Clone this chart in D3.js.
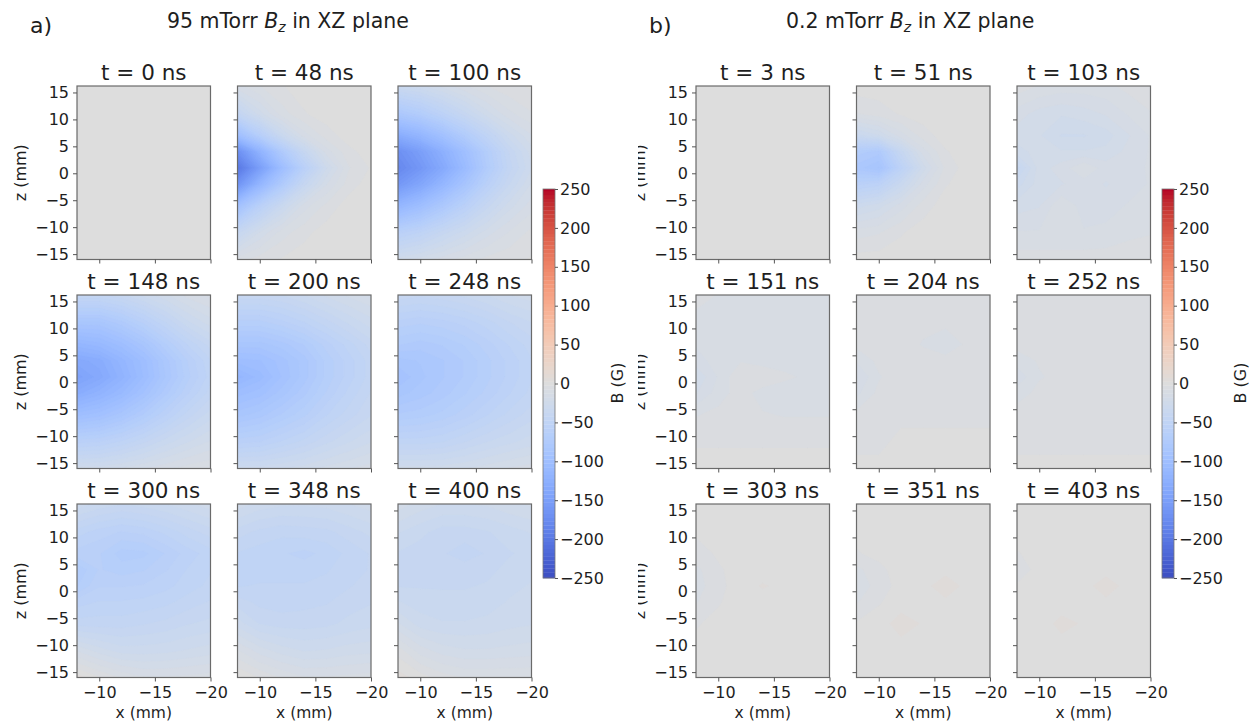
<!DOCTYPE html>
<html>
<head>
<meta charset="utf-8">
<script src="https://cdn.jsdelivr.net/npm/d3@7"></script>
<style>
  body { margin: 0; background: #fff; }
  svg text { font-family: "DejaVu Sans", sans-serif; fill: #1e1e1e; }
</style>
</head>
<body>
<svg id="chart" width="1258" height="726"></svg>
<script>
// Measurement grid (mm): x columns and z rows (rows listed top to bottom)
const xSamples = [-8, -10, -12, -14, -16, -18, -20];
const zSamples = [16, 11, 7, 4, 1, -2, -6, -11, -16];

const xTicks = [-10, -15, -20];
const zTicks = [-15, -10, -5, 0, 5, 10, 15];
const cbarTicks = [-250, -200, -150, -100, -50, 0, 50, 100, 150, 200, 250];

const times95 = [0, 48, 100, 148, 200, 248, 300, 348, 400];
const times02 = [3, 51, 103, 151, 204, 252, 303, 351, 403];

// Bz (G) at 95 mTorr, one grid per time
const bz95 = [
  [[0,0,0,0,0,0,0],[0,0,0,0,0,0,0],[0,0,0,0,0,0,0],[0,0,0,0,0,0,0],[0,0,0,0,0,0,0],
   [0,0,0,0,0,0,0],[0,0,0,0,0,0,0],[0,0,0,0,0,0,0],[0,0,0,0,0,0,0]],
  [[-15,-8,-3,0,0,0,0],[-45,-25,-10,-3,0,0,0],[-100,-65,-35,-15,-5,0,0],[-170,-120,-75,-40,-15,-4,0],
   [-200,-150,-100,-60,-28,-8,-2],[-165,-115,-75,-40,-18,-5,0],[-95,-60,-35,-15,-6,0,0],
   [-40,-22,-10,-4,0,0,0],[-10,-5,-2,0,0,0,0]],
  [[-35,-30,-22,-14,-8,-4,-2],[-80,-70,-55,-40,-25,-14,-8],[-130,-115,-95,-72,-50,-30,-18],
   [-170,-150,-125,-98,-68,-42,-25],[-180,-160,-135,-105,-72,-45,-28],[-160,-140,-115,-88,-60,-38,-22],
   [-115,-100,-80,-60,-40,-25,-15],[-60,-52,-40,-30,-20,-12,-6],[-25,-20,-15,-10,-6,-4,-2]],
  [[-45,-45,-40,-32,-24,-16,-12],[-85,-85,-75,-62,-48,-34,-25],[-115,-110,-100,-86,-68,-52,-40],
   [-135,-130,-115,-100,-80,-62,-48],[-145,-135,-120,-102,-82,-64,-50],[-130,-120,-108,-92,-74,-58,-45],
   [-100,-95,-85,-72,-58,-45,-35],[-60,-58,-52,-44,-35,-28,-22],[-25,-25,-22,-18,-14,-10,-8]],
  [[-40,-40,-38,-33,-27,-22,-18],[-65,-65,-60,-53,-45,-37,-30],[-85,-85,-80,-72,-60,-50,-40],
   [-100,-98,-90,-80,-66,-55,-45],[-115,-105,-92,-80,-66,-55,-45],[-100,-95,-85,-74,-62,-51,-42],
   [-85,-80,-72,-64,-53,-45,-38],[-60,-58,-52,-46,-39,-33,-28],[-30,-30,-28,-25,-21,-18,-15]],
  [[-40,-42,-40,-37,-33,-28,-25],[-60,-62,-60,-56,-50,-43,-38],[-72,-75,-72,-67,-60,-52,-45],
   [-85,-82,-78,-72,-64,-56,-48],[-92,-84,-78,-72,-64,-56,-48],[-85,-80,-75,-68,-61,-53,-46],
   [-72,-70,-66,-60,-53,-46,-40],[-50,-50,-48,-43,-38,-34,-30],[-25,-25,-25,-23,-20,-17,-15]],
  [[-30,-35,-38,-36,-33,-29,-25],[-50,-55,-58,-56,-51,-45,-40],[-60,-62,-70,-69,-62,-55,-50],
   [-72,-62,-65,-63,-58,-52,-48],[-68,-58,-58,-57,-54,-50,-46],[-55,-52,-52,-51,-49,-45,-42],
   [-45,-45,-45,-43,-41,-38,-36],[-18,-25,-30,-30,-29,-27,-25],[5,-2,-8,-12,-12,-11,-10]],
  [[-25,-30,-32,-32,-31,-28,-25],[-40,-44,-46,-45,-44,-40,-36],[-48,-50,-52,-54,-51,-46,-42],
   [-50,-50,-50,-50,-48,-45,-42],[-48,-47,-47,-47,-46,-43,-40],[-40,-44,-45,-44,-43,-40,-38],
   [-30,-38,-40,-40,-39,-36,-34],[-12,-20,-25,-28,-27,-25,-24],[3,-3,-8,-12,-12,-11,-10]],
  [[-20,-25,-28,-28,-27,-24,-22],[-32,-36,-40,-40,-38,-35,-32],[-38,-40,-42,-45,-42,-38,-36],
   [-40,-40,-40,-40,-39,-36,-34],[-38,-38,-38,-38,-37,-34,-32],[-32,-35,-36,-36,-35,-32,-30],
   [-22,-30,-32,-32,-31,-29,-28],[-5,-15,-20,-22,-22,-21,-20],[5,0,-5,-8,-8,-8,-8]]
];

// Bz (G) at 0.2 mTorr, one grid per time
const bz02 = [
  [[0,0,0,0,0,0,0],[0,0,0,0,0,0,0],[0,0,0,0,0,0,0],[0,0,0,0,0,0,0],[0,0,0,0,0,0,0],
   [0,0,0,0,0,0,0],[0,0,0,0,0,0,0],[0,0,0,0,0,0,0],[0,0,0,0,0,0,0]],
  [[0,0,0,0,0,0,0],[-8,-5,-2,0,0,0,0],[-35,-28,-15,-5,0,0,0],[-70,-75,-40,-15,-3,0,0],
   [-80,-88,-55,-25,-6,0,0],[-60,-55,-35,-15,-3,0,0],[-30,-25,-15,-5,0,0,0],
   [-10,-8,-3,0,0,0,0],[0,0,0,0,0,0,0]],
  [[-5,-8,-10,-10,-9,-6,-3],[-15,-20,-22,-20,-17,-12,-8],[-20,-22,-28,-28,-25,-18,-12],
   [-25,-20,-22,-22,-21,-16,-12],[-40,-20,-15,-8,-15,-14,-12],[-30,-20,-18,-15,-18,-15,-12],
   [-20,-18,-8,-15,-15,-12,-10],[-12,-12,-12,-12,-11,-9,-8],[-5,-5,-5,-5,-5,-4,-3]],
  [[-5,-8,-10,-12,-11,-9,-8],[-10,-12,-12,-12,-12,-11,-10],[-12,-12,-12,-12,-12,-12,-12],
   [-15,-10,-8,-10,-11,-12,-12],[-22,-12,-3,-3,-6,-9,-10],[-18,-10,-5,-10,-12,-12,-12],
   [-8,-6,-5,-7,-8,-8,-8],[-3,-3,-3,-3,-3,-3,-3],[-1,-1,-1,-1,-1,-1,-1]],
  [[-3,-3,-3,-3,-3,-3,-3],[-5,-5,-5,-6,-6,-5,-4],[-6,-5,-5,-8,-12,-6,-4],[-12,-6,-5,-5,-5,-5,-4],
   [-18,-8,-5,-4,-4,-4,-4],[-14,-6,-4,-4,-4,-4,-4],[-6,-4,-3,-3,-3,-3,-3],
   [-3,-3,-2,-2,-2,-2,-2],[-2,-2,-2,-1,-1,-1,-1]],
  [[-3,-3,-3,-3,-3,-3,-3],[-5,-5,-6,-6,-6,-5,-4],[-6,-6,-6,-6,-6,-6,-5],[-10,-7,-6,-6,-6,-6,-5],
   [-16,-8,-6,-5,-5,-5,-5],[-10,-6,-5,-5,-5,-5,-4],[-5,-4,-4,-4,-4,-4,-3],
   [-3,-3,-3,-3,-3,-3,-3],[-2,-2,-2,-2,-2,-2,-2]],
  [[-1,-1,-1,-1,-1,-1,-1],[-2,-2,-2,-1,-1,-1,-1],[-4,-2,-1,-1,-1,-1,-1],[-9,-3,-1,0,0,0,0],
   [-10,-4,0,3,1,0,0],[-8,-3,0,0,0,0,0],[-3,-1,0,0,0,0,0],[-1,0,0,0,0,0,0],[0,0,0,0,0,0,0]],
  [[0,0,0,0,0,0,0],[-1,-1,0,0,0,0,0],[-3,-1,0,0,0,0,0],[-9,-4,0,0,0,0,0],
   [-10,-6,0,0,7,0,0],[-8,-3,0,0,1,0,0],[-2,0,5,2,0,0,0],[0,0,0,0,0,0,0],[0,0,0,0,0,0,0]],
  [[0,0,0,0,0,0,0],[0,0,0,0,0,0,0],[-3,0,0,0,0,0,0],[-5,-1,0,0,0,0,0],
   [-2,0,0,0,6,0,0],[0,0,0,0,1,0,0],[0,0,4,2,0,0,0],[0,0,0,0,0,0,0],[0,0,0,0,0,0,0]]
];

// coolwarm colormap control points
const coolwarmStops = [
  [0.2298,0.2987,0.7537],[0.2662,0.3531,0.8015],[0.3039,0.4065,0.8450],[0.3428,0.4588,0.8837],
  [0.3830,0.5094,0.9174],[0.4244,0.5581,0.9456],[0.4667,0.6046,0.9682],[0.5096,0.6483,0.9848],
  [0.5530,0.6889,0.9954],[0.5963,0.7261,0.9998],[0.6392,0.7596,0.9982],[0.6813,0.7890,0.9904],
  [0.7222,0.8140,0.9766],[0.7615,0.8343,0.9569],[0.7987,0.8498,0.9317],[0.8335,0.8602,0.9011],
  [0.8654,0.8654,0.8654],[0.8978,0.8489,0.8209],[0.9241,0.8274,0.7745],[0.9445,0.8009,0.7267],
  [0.9589,0.7698,0.6780],[0.9673,0.7341,0.6288],[0.9700,0.6943,0.5794],[0.9668,0.6504,0.5303],
  [0.9580,0.6028,0.4818],[0.9437,0.5518,0.4342],[0.9239,0.4973,0.3880],[0.8990,0.4396,0.3432],
  [0.8692,0.3783,0.3003],[0.8346,0.3129,0.2593],[0.7956,0.2413,0.2193],[0.7525,0.1572,0.1841],
  [0.7057,0.0156,0.1502]
].map(c => d3.rgb(c[0] * 255, c[1] * 255, c[2] * 255));
const coolwarm = d3.scaleLinear()
  .domain(d3.range(coolwarmStops.length).map(i => -250 + 500 * i / (coolwarmStops.length - 1)))
  .range(coolwarmStops)
  .interpolate(d3.interpolateRgb)
  .clamp(true);

const step = 5;
const thresholds = d3.range(-250 - step / 2, 250, step);
const bandColor = t => coolwarm(Math.max(-250, Math.min(250, t + step / 2)));

const svg = d3.select("#chart");
const W = 133.5, H = 173.5;
const colX = [77, 237.5, 398];
const rowY = [86, 295, 504];
const tickLen = 4;
const minusFmt = d => String(d).replace("-", "\u2212");

const contourGen = d3.contours()
  .size([xSamples.length, zSamples.length])
  .thresholds(thresholds);
const gridToX = d3.scaleLinear().domain(xSamples.map((_, i) => i + 0.5)).range(xSamples);
const gridToZ = d3.scaleLinear().domain(zSamples.map((_, i) => i + 0.5)).range(zSamples);

let clipId = 0;

function drawPanel(g, grid, t, col, row) {
  const x0 = colX[col], y0 = rowY[row];
  const x = d3.scaleLinear().domain([-8, -20]).range([x0, x0 + W]);
  const z = d3.scaleLinear().domain([-16, 16.2]).range([y0 + H, y0]);

  const id = "clip" + (clipId++);
  g.append("clipPath").attr("id", id)
    .append("rect").attr("x", x0).attr("y", y0).attr("width", W).attr("height", H);

  const proj = d3.geoTransform({
    point(px, py) { this.stream.point(x(gridToX(px)), z(gridToZ(py))); }
  });
  const path = d3.geoPath(proj);

  const fill = g.append("g").attr("clip-path", `url(#${id})`);
  fill.selectAll("path")
    .data(contourGen(grid.flat()).filter(c => c.coordinates.length))
    .join("path")
    .attr("d", path)
    .attr("fill", c => bandColor(c.value))
    .attr("stroke", c => bandColor(c.value))
    .attr("stroke-width", 0.3);

  // frame
  g.append("rect").attr("x", x0).attr("y", y0).attr("width", W).attr("height", H)
    .attr("fill", "none").attr("stroke", "#6a6a6a").attr("stroke-width", 1.2);

  // ticks
  const yAx = g.append("g").attr("transform", `translate(${x0},0)`)
    .call(d3.axisLeft(z).tickValues(zTicks).tickSize(tickLen).tickPadding(4)
      .tickFormat(col === 0 ? minusFmt : ""));
  const xAx = g.append("g").attr("transform", `translate(0,${y0 + H})`)
    .call(d3.axisBottom(x).tickValues(xTicks).tickSize(tickLen).tickPadding(5.5)
      .tickFormat(row === 2 ? minusFmt : ""));
  [yAx, xAx].forEach(a => {
    a.select(".domain").remove();
    a.selectAll(".tick line").attr("stroke", "#555").attr("stroke-width", 1);
    a.selectAll(".tick text").attr("font-size", 16).attr("fill", "#1e1e1e")
      .attr("font-family", "DejaVu Sans, sans-serif");
  });

  g.append("text")
    .attr("x", x0 + W / 2).attr("y", y0 - 6)
    .attr("text-anchor", "middle").attr("font-size", 21.5)
    .text(`t = ${t} ns`);

  if (col === 0) {
    g.append("text")
      .attr("transform", `translate(${x0 - 51},${y0 + H / 2}) rotate(-90)`)
      .attr("text-anchor", "middle").attr("font-size", 16)
      .text("z (mm)");
  }
  if (row === 2) {
    g.append("text")
      .attr("x", x0 + W / 2).attr("y", 717.5)
      .attr("text-anchor", "middle").attr("font-size", 15.5)
      .text("x (mm)");
  }
}

function drawColorbar(g, bx, cbLabelX) {
  const y = d3.scaleLinear().domain([-250, 250]).range([578, 189]);
  const bw = 12;
  g.selectAll("rect.band")
    .data(thresholds)
    .join("rect").attr("class", "band")
    .attr("x", bx)
    .attr("y", t => y(Math.min(250, t + step)))
    .attr("width", bw)
    .attr("height", t => Math.abs(y(Math.max(-250, t)) - y(Math.min(250, t + step))) + 0.3)
    .attr("fill", t => bandColor(t));
  g.append("rect").attr("x", bx).attr("y", 189).attr("width", bw).attr("height", 389)
    .attr("fill", "none").attr("stroke", "#777").attr("stroke-width", 0.8);
  const ax = g.append("g").attr("transform", `translate(${bx + bw},0)`)
    .call(d3.axisRight(y).tickValues(cbarTicks).tickSize(3).tickPadding(2)
      .tickFormat(minusFmt));
  ax.select(".domain").remove();
  ax.selectAll(".tick line").attr("stroke", "#555");
  ax.selectAll(".tick text").attr("font-size", 16).attr("fill", "#1e1e1e")
    .attr("font-family", "DejaVu Sans, sans-serif");
  g.append("text")
    .attr("transform", `translate(${cbLabelX},383) rotate(-90)`)
    .attr("text-anchor", "middle").attr("dominant-baseline", "central")
    .attr("font-size", 16).text("B (G)");
}

function drawFigure(offset, letter, pressure, times, grids, cbLabelX, clipLeft) {
  let g = svg.append("g");
  if (clipLeft !== null) {
    g.append("clipPath").attr("id", "figclip" + offset)
      .append("rect").attr("x", clipLeft).attr("y", 0).attr("width", 1258 - clipLeft).attr("height", 726);
    g.attr("clip-path", `url(#figclip${offset})`);
  }
  g = g.append("g").attr("transform", `translate(${offset},0)`);

  g.append("text").attr("x", 30).attr("y", 33)
    .attr("font-family", "Lato, 'Open Sans', sans-serif").attr("font-size", 22)
    .text(letter);
  const title = g.append("text").attr("x", 167).attr("y", 28).attr("font-size", 20.5);
  title.append("tspan").text(`${pressure} mTorr `);
  title.append("tspan").attr("font-style", "italic").text("B");
  title.append("tspan").attr("font-style", "italic").attr("font-size", 14).attr("dy", 4).text("z");
  title.append("tspan").attr("dy", -4).text(" in XZ plane");

  times.forEach((t, i) => drawPanel(g, grids[i], t, i % 3, Math.floor(i / 3)));
  drawColorbar(g, 543, cbLabelX);
}

drawFigure(0, "a)", "95", times95, bz95, 617, null);
drawFigure(619, "b)", "0.2", times02, bz02, 621, 638);
</script>
</body>
</html>
